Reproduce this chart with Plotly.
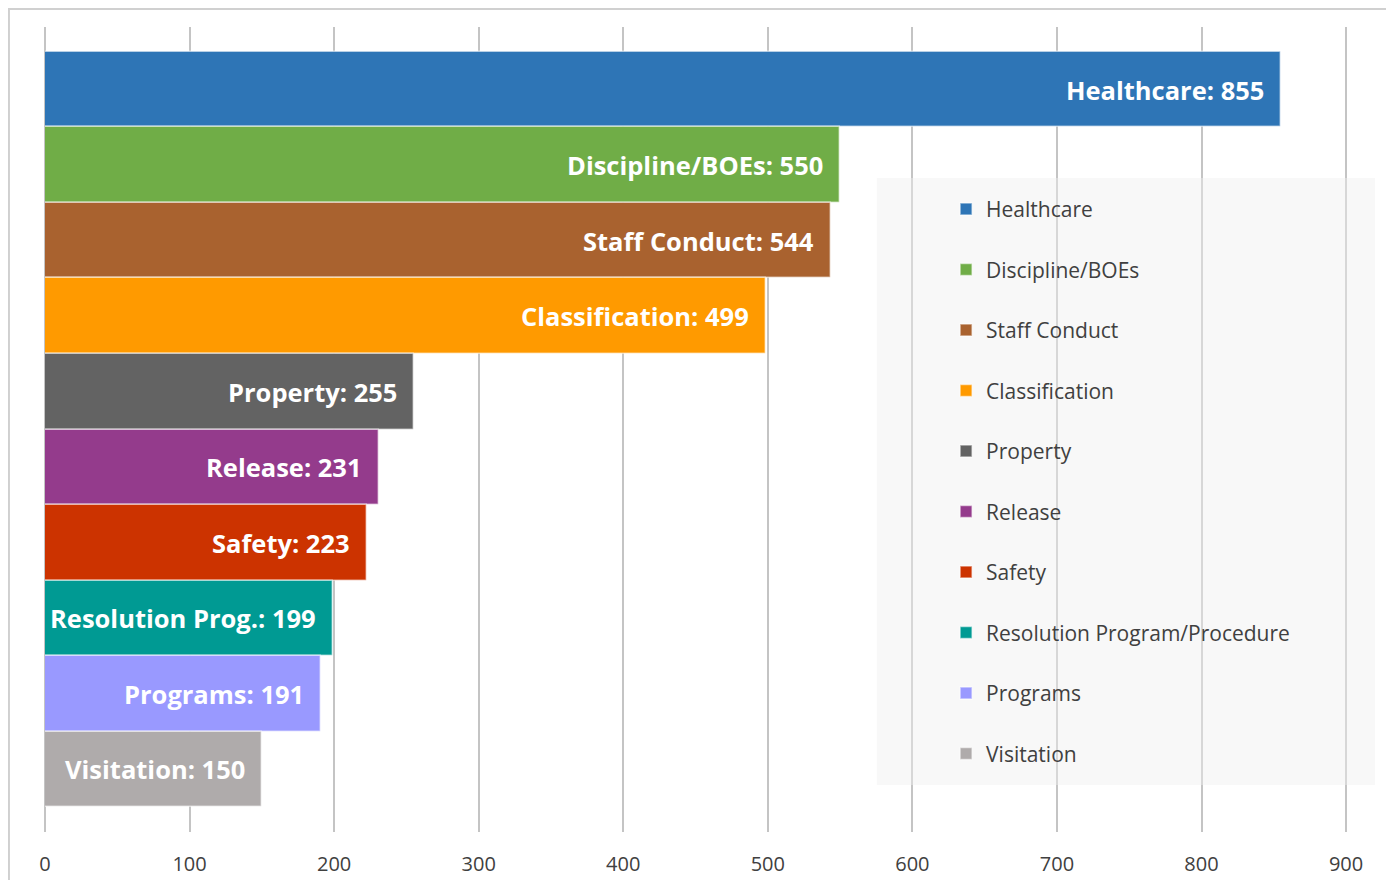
import plotly.graph_objects as go

categories = ["Healthcare", "Discipline/BOEs", "Staff Conduct", "Classification", "Property",
              "Release", "Safety", "Resolution Program/Procedure", "Programs", "Visitation"]
bar_labels = ["Healthcare", "Discipline/BOEs", "Staff Conduct", "Classification", "Property",
              "Release", "Safety", "Resolution Prog.", "Programs", "Visitation"]
values = [855, 550, 544, 499, 255, 231, 223, 199, 191, 150]
colors = ["#2E75B6", "#70AD47", "#A9622F", "#FF9A00", "#636363",
          "#943B8C", "#CC3300", "#009A93", "#9999FF", "#AFABAB"]
tick_vals = [0, 100, 200, 300, 400, 500, 600, 700, 800, 900]

FONT = "Open Sans"

fig = go.Figure()
for i, (cat, val, col) in enumerate(zip(categories, values, colors)):
    fig.add_trace(go.Bar(
        x=[val], y=[cat], orientation="h", name=cat,
        marker=dict(color=col, line=dict(color="rgba(255,255,255,0.55)", width=1.5)),
        legendgroup=cat, width=1.0,
        hoverinfo="x+name",
    ))

annotations = []
for lab, val, cat in zip(bar_labels, values, categories):
    annotations.append(dict(
        x=val, y=cat, xref="x", yref="y", text=f"<b>{lab}: {val}</b>",
        showarrow=False, xanchor="right", yanchor="middle", xshift=-15,
        font=dict(family=FONT, size=25.5, color="white"),
    ))

fig.update_layout(
    width=1386, height=872,
    margin=dict(l=37, r=19, t=19, b=48, autoexpand=False),
    paper_bgcolor="white", plot_bgcolor="white",
    barmode="overlay", bargap=0,
    font=dict(family=FONT, color="#404040"),
    showlegend=True,
    legend=dict(
        x=0.6775, y=0.799, xanchor="left", yanchor="top",
        bgcolor="rgba(0,0,0,0)", borderwidth=0,
        font=dict(family=FONT, size=21, color="#404040"),
        tracegroupgap=30.2, traceorder="grouped",
    ),
    annotations=annotations,
    shapes=[
        dict(type="rect", xref="x", yref="paper", x0=575.5, x1=920, y0=0.0584, y1=0.8124,
             fillcolor="rgba(240,240,240,0.45)", line=dict(width=0), layer="above"),
        dict(type="rect", xref="paper", yref="paper", x0=-0.0271, x1=1.0098, y0=-0.08, y1=1.0224,
             fillcolor="rgba(0,0,0,0)", line=dict(color="#d0d0d0", width=2), layer="above"),
    ],
)

fig.update_xaxes(
    range=[0, 920], tickvals=tick_vals, ticktext=[str(v) for v in tick_vals],
    showgrid=True, gridcolor="#c4c4c4", gridwidth=1.5,
    zeroline=True, zerolinecolor="#c4c4c4", zerolinewidth=1.5,
    showline=False, ticks="", ticklabelstandoff=18, automargin=False,
    tickfont=dict(family=FONT, size=20, color="#404040"),
)
fig.update_yaxes(
    type="category", categoryorder="array", categoryarray=categories,
    range=[9.83, -0.83], showticklabels=False, showgrid=False, zeroline=False, showline=False,
)

fig.write_html("out.html")
